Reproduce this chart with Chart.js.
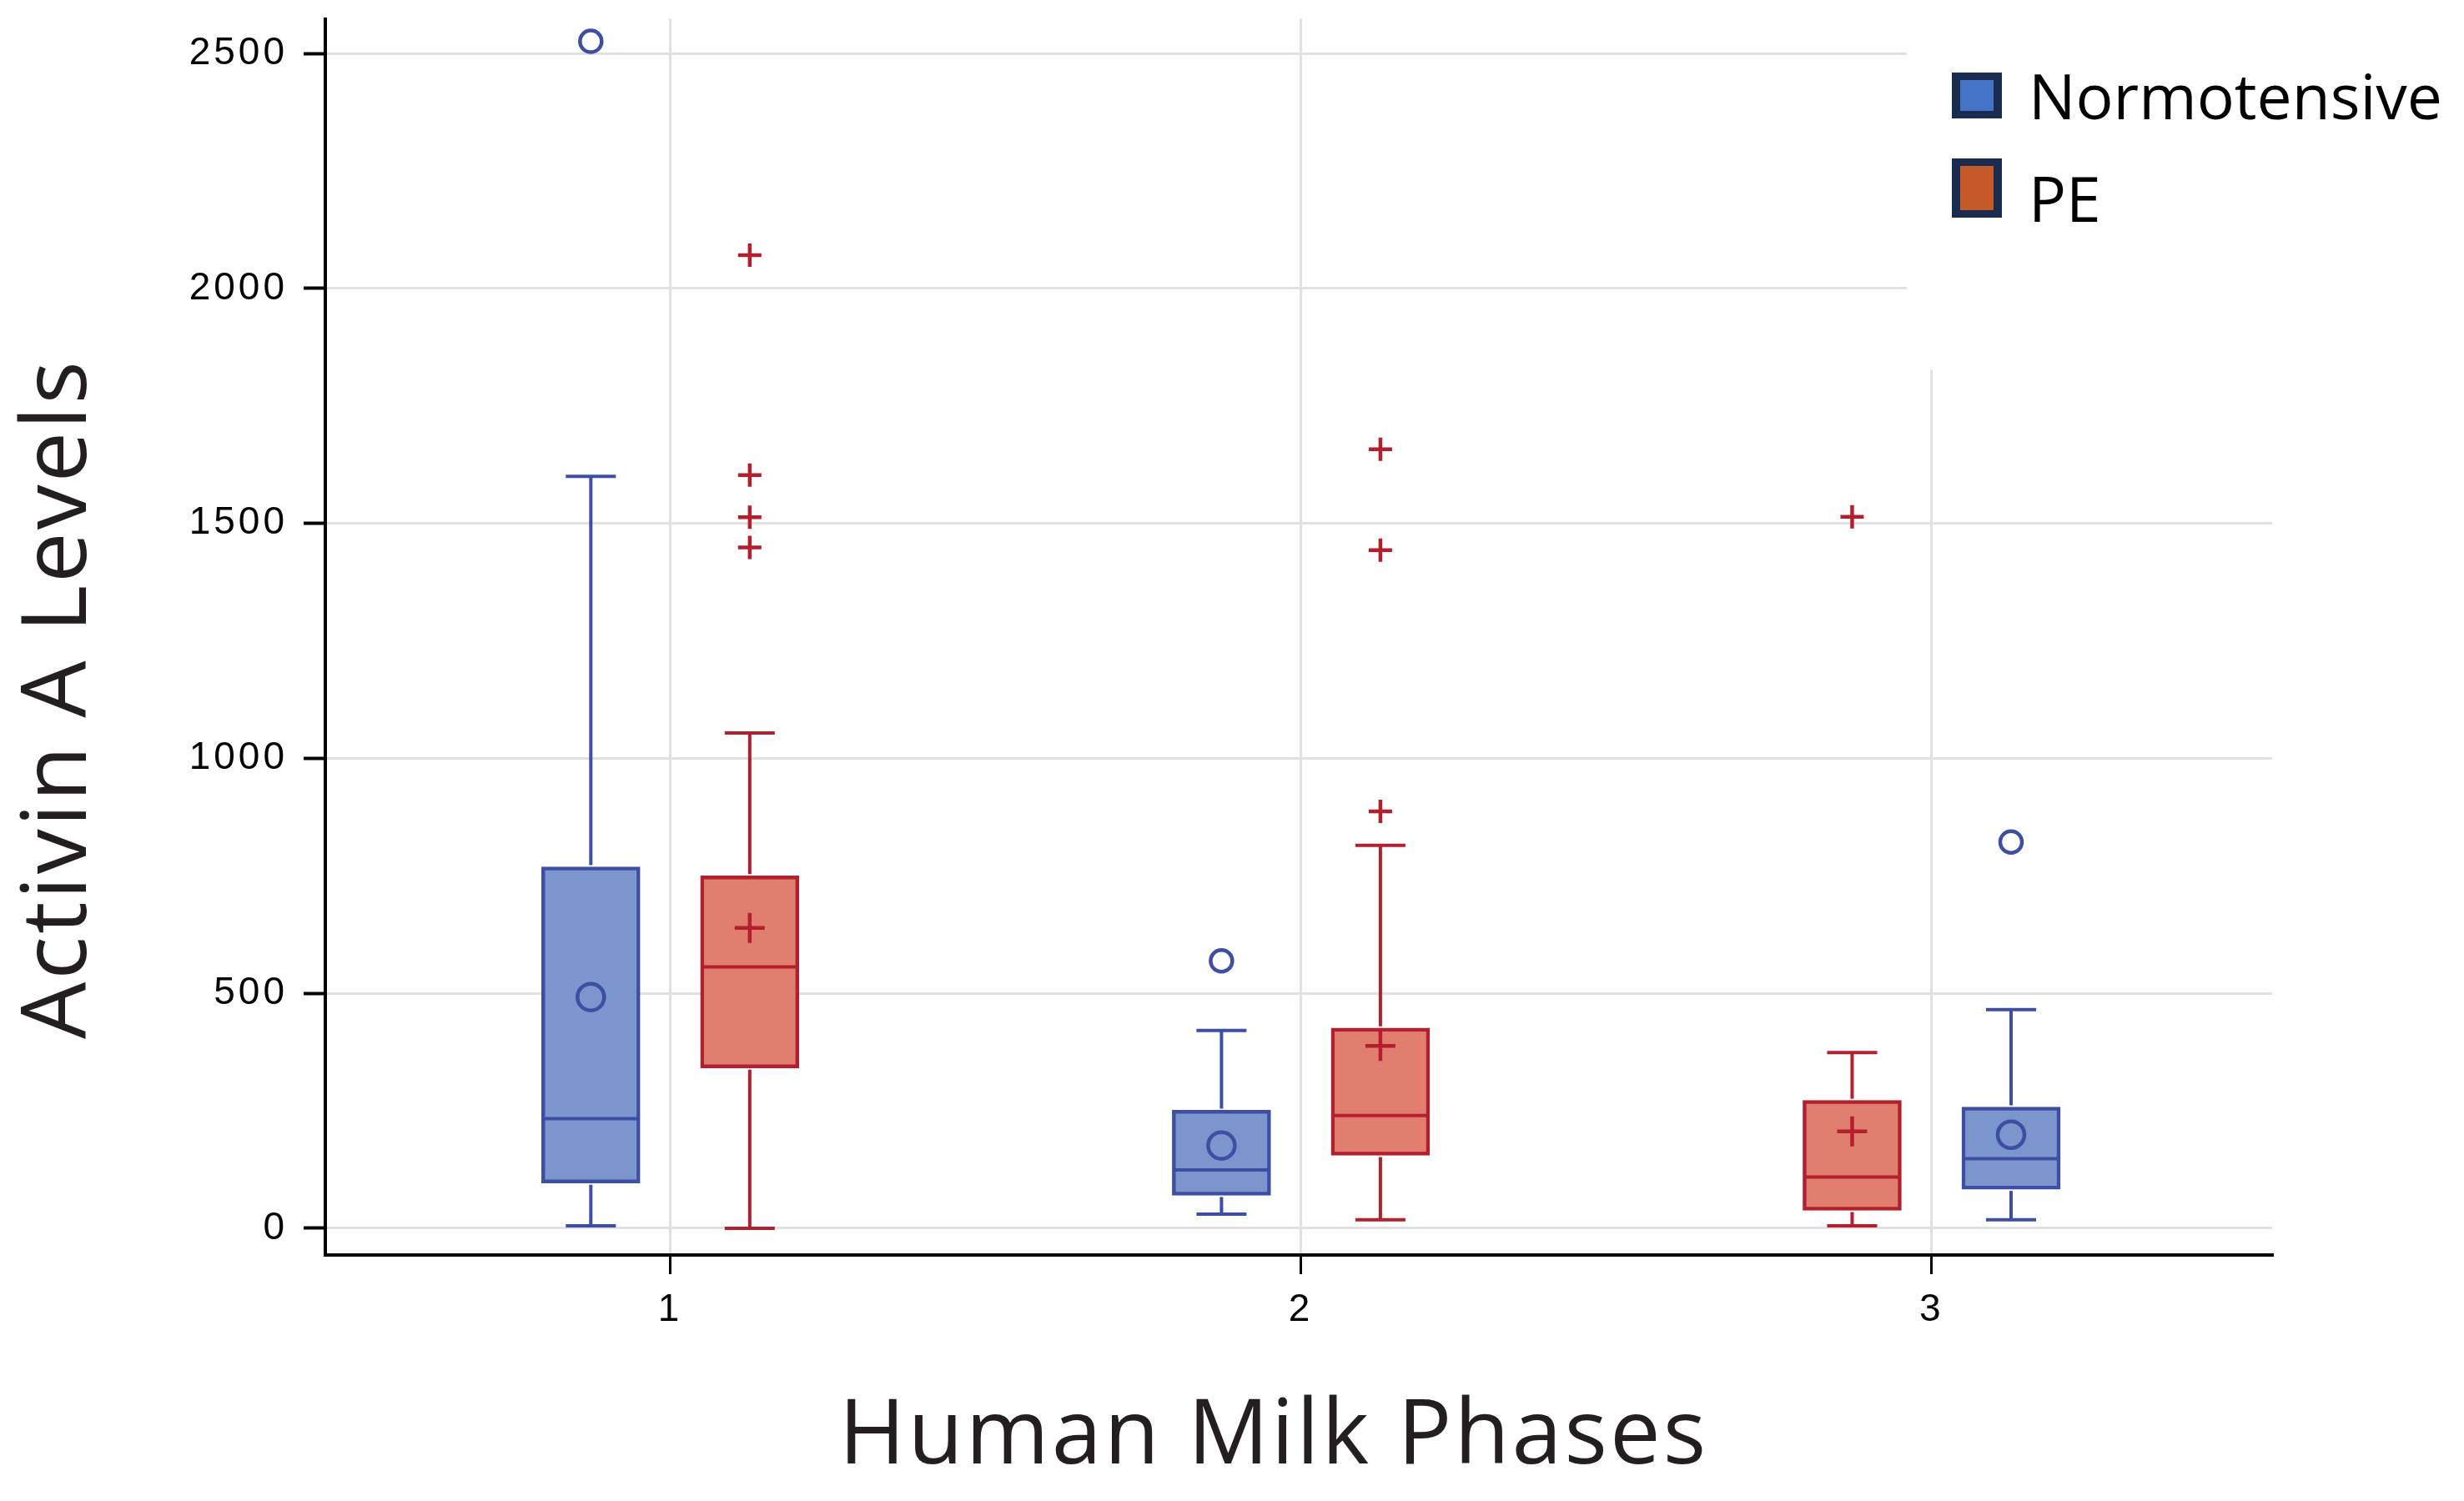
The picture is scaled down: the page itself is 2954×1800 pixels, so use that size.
<!DOCTYPE html>
<html>
<head>
<meta charset="utf-8">
<script src="https://cdn.jsdelivr.net/npm/chart.js@4.4.1/dist/chart.umd.min.js"></script>
<style>
  html, body { margin: 0; padding: 0; background: #fff; }
</style>
</head>
<body>
<canvas id="chart" width="2954" height="1800"></canvas>
<script>
// ---- DATA ----
const phases = [1, 2, 3];
// series drawn left of each phase line
const leftSeries = ['Normotensive', 'Normotensive', 'PE'];

const normLow      = [5, 30, 18];
const normQ1       = [96, 70, 83];
const normMedian   = [233, 124, 148];
const normQ3       = [769, 251, 258];
const normHigh     = [1600, 421, 465];
const normMean     = [492, 176, 199];
const normOutliers = [[2526], [569], [822]];

const peLow      = [0, 18, 5];
const peQ1       = [341, 155, 38];
const peMedian   = [556, 240, 109];
const peQ3       = [750, 426, 272];
const peHigh     = [1054, 815, 374];
const peMean     = [639, 388, 206];
const peOutliers = [[2071, 1603, 1513, 1449], [1658, 1443, 887], [1514]];

const yTicks = [0, 500, 1000, 1500, 2000, 2500];

// ---- STYLE ----
const NORM = { stroke: '#3f4ea5', fill: '#7b96cc', legend: '#4472c4' };
const PE   = { stroke: '#b41f2e', fill: '#e07e6f', legend: '#c55a28' };
const SHIFT = 0.126;
const TICK_FONT = { family: '"Liberation Sans", Arial, sans-serif', size: 46 };
const TITLE_FONT = '108px "Open Sans", "Noto Sans", sans-serif';

function posOf(series, i) {
  return phases[i] + (leftSeries[i] === series ? -SHIFT : SHIFT);
}

const boxes = {
  Normotensive: { low: normLow, q1: normQ1, med: normMedian, q3: normQ3, high: normHigh, c: NORM },
  PE:           { low: peLow,   q1: peQ1,   med: peMedian,   q3: peQ3,   high: peHigh,   c: PE },
};

function outlierPoints(series, lists) {
  const pts = [];
  lists.forEach((vals, i) => vals.forEach(v => pts.push({ x: posOf(series, i), y: v })));
  return pts;
}

// ---- PLUGINS ----
const whiskerPlugin = {
  id: 'whiskers',
  beforeDraw(chart) {
    // SAS tick labels are spaced out a little
    chart.ctx.letterSpacing = '4px';
  },
  beforeDatasetsDraw(chart) {
    // white legend panel covers the grid in the top right corner
    const { ctx, chartArea } = chart;
    ctx.save();
    ctx.fillStyle = '#fff';
    ctx.fillRect(chartArea.right - 438, 0, 438, chartArea.top + 421);
    ctx.restore();
  },
  afterDatasetsDraw(chart) {
    const { ctx, scales: { x, y } } = chart;
    const seg = (x1, y1, x2, y2) => {
      ctx.beginPath(); ctx.moveTo(x1, y1); ctx.lineTo(x2, y2); ctx.stroke();
    };
    ctx.save();
    ctx.lineWidth = 4;
    Object.entries(boxes).forEach(([name, b]) => {
      ctx.strokeStyle = b.c.stroke;
      phases.forEach((p, i) => {
        const px = x.getPixelForValue(posOf(name, i));
        const half = 59, cap = 30;
        const yHi = y.getPixelForValue(b.high[i]), yLo = y.getPixelForValue(b.low[i]);
        const yQ1 = y.getPixelForValue(b.q1[i]), yQ3 = y.getPixelForValue(b.q3[i]);
        const yMed = y.getPixelForValue(b.med[i]);
        seg(px, yQ3 - 2, px, yHi);
        seg(px - cap, yHi, px + cap, yHi);
        seg(px, yQ1 + 2, px, yLo);
        seg(px - cap, yLo, px + cap, yLo);
        seg(px - half + 3, yMed, px + half - 3, yMed);
      });
    });
    ctx.restore();
  },
  afterDraw(chart) {
    const { ctx, chartArea } = chart;
    ctx.save();
    // axis titles
    ctx.letterSpacing = '3px';
    ctx.fillStyle = '#231f20';
    ctx.font = TITLE_FONT;
    ctx.textAlign = 'center';
    ctx.textBaseline = 'alphabetic';
    ctx.fillText('Human Milk Phases', (chartArea.left + chartArea.right) / 2 - 30, chartArea.bottom + 250);
    ctx.translate(chartArea.left - 287, 838);
    ctx.rotate(-Math.PI / 2);
    ctx.fillText('Activin A Levels', 0, 0);
    ctx.restore();

    // legend
    ctx.save();
    ctx.letterSpacing = '0px';
    const lx = chartArea.right - 384;
    const items = [
      { label: 'Normotensive', color: NORM.legend, top: 87, h: 55, base: 143 },
      { label: 'PE', color: PE.legend, top: 190, h: 71, base: 266 },
    ];
    ctx.font = '75px "Open Sans", "Noto Sans", sans-serif';
    ctx.textAlign = 'left';
    ctx.textBaseline = 'alphabetic';
    items.forEach(it => {
      ctx.fillStyle = '#1a2b50';
      ctx.fillRect(lx, it.top, 60, it.h);
      ctx.fillStyle = it.color;
      ctx.fillRect(lx + 10, it.top + 9, 40, it.h - 18);
      ctx.fillStyle = '#000';
      ctx.fillText(it.label, lx + 92, it.base);
    });
    ctx.restore();
  }
};

// ---- CHART ----
const ctx = document.getElementById('chart').getContext('2d');
new Chart(ctx, {
  type: 'scatter',
  data: {
    datasets: [
      {
        label: 'Normotensive mean',
        data: normMean.map((v, i) => ({ x: posOf('Normotensive', i), y: v })),
        pointStyle: 'circle', radius: 16, borderWidth: 4.5,
        borderColor: NORM.stroke, backgroundColor: 'rgba(0,0,0,0)',
      },
      {
        label: 'Normotensive outliers',
        data: outlierPoints('Normotensive', normOutliers),
        pointStyle: 'circle', radius: 13, borderWidth: 4.5,
        borderColor: NORM.stroke, backgroundColor: 'rgba(0,0,0,0)',
      },
      {
        label: 'PE mean',
        data: peMean.map((v, i) => ({ x: posOf('PE', i), y: v })),
        pointStyle: 'cross', radius: 18, borderWidth: 4.5,
        borderColor: PE.stroke,
      },
      {
        label: 'PE outliers',
        data: outlierPoints('PE', peOutliers),
        pointStyle: 'cross', radius: 14, borderWidth: 4.5,
        borderColor: PE.stroke,
      },
      {
        type: 'bar',
        label: 'Normotensive',
        data: normQ1.map((v, i) => ({ x: posOf('Normotensive', i), y: [v, normQ3[i]] })),
        backgroundColor: NORM.fill, borderColor: NORM.stroke,
        borderWidth: 4.5, borderSkipped: false, barThickness: 118, grouped: false,
      },
      {
        type: 'bar',
        label: 'PE',
        data: peQ1.map((v, i) => ({ x: posOf('PE', i), y: [v, peQ3[i]] })),
        backgroundColor: PE.fill, borderColor: PE.stroke,
        borderWidth: 4.5, borderSkipped: false, barThickness: 118, grouped: false,
      },
    ]
  },
  options: {
    responsive: false,
    devicePixelRatio: 1,
    animation: false,
    events: [],
    layout: { padding: { left: 0, top: 19, right: 230, bottom: 0 } },
    plugins: { legend: { display: false }, tooltip: { enabled: false } },
    scales: {
      x: {
        type: 'linear', min: 0.453, max: 3.54, offset: false,
        afterBuildTicks: s => { s.ticks = phases.map(v => ({ value: v })); },
        afterFit: s => { s.height = 295; s.paddingLeft = 0; s.paddingRight = 0; },
        grid: { offset: false, color: '#e1e1e1', lineWidth: 3, tickColor: '#000', tickWidth: 3, tickLength: 23 },
        border: { color: '#000', width: 4 },
        ticks: { font: TICK_FONT, color: '#000', padding: 16, callback: v => String(v) },
      },
      y: {
        type: 'linear', min: -57, max: 2574,
        afterBuildTicks: s => { s.ticks = yTicks.map(v => ({ value: v })); },
        afterFit: s => { s.width = 390; s.paddingTop = 0; s.paddingBottom = 0; },
        grid: { color: '#e1e1e1', lineWidth: 3, tickColor: '#000', tickWidth: 4, tickLength: 26 },
        border: { color: '#000', width: 4 },
        ticks: { font: TICK_FONT, color: '#000', padding: 19, callback: v => String(v) },
      }
    }
  },
  plugins: [whiskerPlugin]
});
</script>
</body>
</html>
